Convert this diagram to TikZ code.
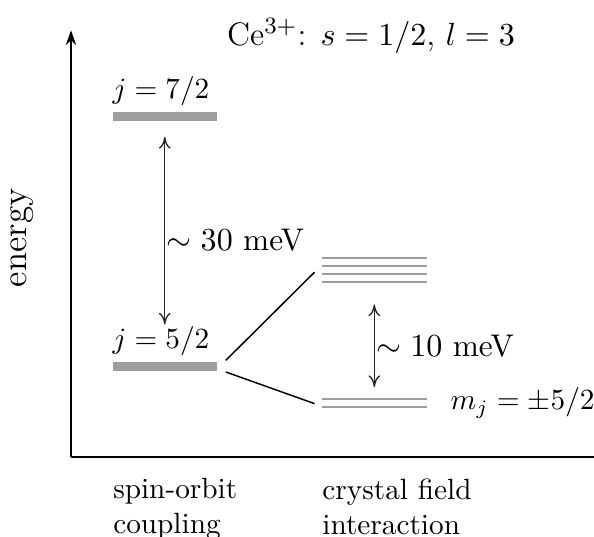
\documentclass[tikz,border=0pt]{standalone}
\usetikzlibrary{arrows.meta,positioning,calc}

\begin{document}
\begin{tikzpicture}[
  >={To[length=4pt,width=4pt]},
  level/.style={fill=black!38,inner sep=0pt,minimum width=1.25cm,minimum height=0.105cm},
  sublevel/.style={fill=black!38,inner sep=0pt,minimum width=1.26cm,minimum height=0.025cm},
  lab/.style={inner sep=1.5pt},
  gap/.style={<->,line width=0.45pt,draw=black!85},
  gaplab/.style={inner xsep=0.5pt,text=black,font=\fontsize{10.7}{13}\selectfont},
  axis/.style={line width=1pt}
]
\useasboundingbox (-0.852,-0.96) rectangle (6.276,5.484);

% achsen
\coordinate (o) at (0,0);
\coordinate (top) at (0,5.12);
\coordinate (end) at (6.276,0);
\draw[axis,-{Stealth[length=5pt,width=3.5pt]}] (o) -- (top);
\draw[axis] (o) -- (end);
\node[rotate=90,font=\large] (en) at (-0.59,2.63) {energy};
\node[font=\fontsize{11.1}{13}\selectfont] (title) at (3.60,5.05) {Ce$^{3+}$: $s=1/2$, $l=3$};

% spin-bahn
\node[level] (j7) at (1.125,4.09) {};
\node[level] (j5) at (1.125,1.09) {};
\node[lab,anchor=south west,inner xsep=0pt] (j7lab) at (j7.north west) {$j=7/2$};
\node[lab,anchor=south west,inner xsep=0pt] (j5lab) at (j5.north west) {$j=5/2$};
\draw[gap] ([yshift=-0.19cm]j7.south) -- ([yshift=0.44cm]j5.north)
  node[pos=0.55,right=0pt,gaplab] (so) {$\sim 30$ meV};

% kristallfeld
\node[sublevel] (q1) at (3.64,2.39) {};
\node[sublevel] (q2) at (3.64,2.29) {};
\node[sublevel] (q3) at (3.64,2.20) {};
\node[sublevel] (q4) at (3.64,2.10) {};
\node[sublevel] (d1) at (3.64,0.70) {};
\node[sublevel] (d2) at (3.64,0.60) {};
\node[lab,right=0.22cm of $(d1.east)!0.5!(d2.east)$] (mj) {$m_j=\pm 5/2$};
\draw[gap] ([yshift=-0.25cm]q4.south) -- ([yshift=0.12cm]d1.north)
  node[midway,right=0pt,gaplab] (cf) {$\sim 10$ meV};

\draw[line width=0.5pt] ([shift={(0.1cm,0.01cm)}]j5.north east) -- ([xshift=-0.08cm]$(q3.west)!0.2!(q2.west)$);
\draw[line width=0.5pt] ([shift={(0.1cm,-0.01cm)}]j5.south east) -- ([xshift=-0.08cm]$(d2.west)!0.4!(d1.west)$);

% unten
\node[anchor=north west,align=left,inner sep=0pt] (sol) at (0.50,-0.25) {spin-orbit\\coupling};
\node[anchor=north west,align=left,inner sep=0pt] (cfl) at (3.01,-0.25) {crystal field\\interaction};

\end{tikzpicture}
\end{document}
